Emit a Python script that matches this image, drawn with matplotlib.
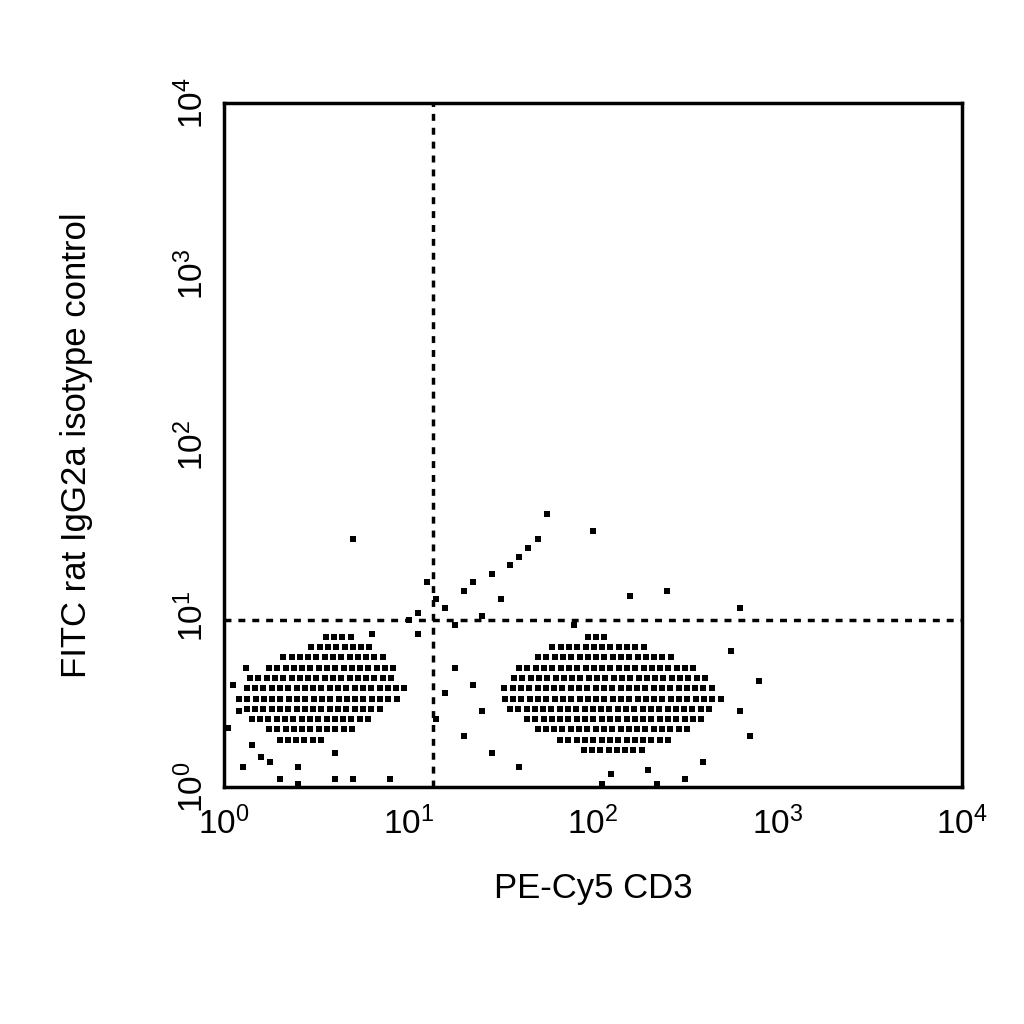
import matplotlib
matplotlib.use("Agg")
import matplotlib.pyplot as plt
import numpy as np

plt.rcParams['font.family'] = ['Liberation Sans', 'DejaVu Sans']
plt.rcParams['mathtext.fontset'] = 'custom'
plt.rcParams['mathtext.rm'] = 'Liberation Sans'

# dense event rows, in log10 units: (y level, x start, x end)
cd3_rows_y  = [0.22, 0.28, 0.34, 0.40, 0.46, 0.52, 0.58, 0.64, 0.70, 0.76, 0.82, 0.88]
cd3_rows_lo = [1.95, 1.80, 1.70, 1.62, 1.55, 1.50, 1.52, 1.55, 1.60, 1.68, 1.78, 1.95]
cd3_rows_hi = [2.30, 2.45, 2.55, 2.62, 2.66, 2.70, 2.68, 2.62, 2.55, 2.45, 2.30, 2.10]
neg_rows_y  = [0.28, 0.34, 0.40, 0.46, 0.52, 0.58, 0.64, 0.70, 0.76, 0.82, 0.88]
neg_rows_lo = [0.30, 0.22, 0.15, 0.10, 0.08, 0.10, 0.14, 0.22, 0.32, 0.45, 0.55]
neg_rows_hi = [0.55, 0.70, 0.80, 0.88, 0.95, 0.98, 0.95, 0.92, 0.88, 0.82, 0.72]
row_step = 0.045

# scattered events (log10 x, log10 y)
sparse_x = [1.35, 1.4, 1.3, 1.25, 1.2, 1.15, 1.45, 1.6, 2.1, 2.3, 2.5, 2.75, 2.8, 2.85,
            2.9, 2.6, 2.05, 2.35, 1.9,
            1.15, 1.2, 1.3, 1.35, 1.45, 1.5, 1.55, 1.6, 1.7, 1.65, 1.1, 1.05, 1.75, 2.0, 2.2,
            2.4, 0.7, 2.8, 1.4, 1.25, 1.0,
            0.05, 0.08, 0.02, 0.12, 0.15, 0.2, 0.25, 0.6, 0.4, 0.7, 0.4, 0.6, 0.9, 0.3,
            0.1, 1.05, 0.8]
sparse_y = [0.6, 0.45, 0.3, 0.7, 0.55, 0.4, 0.2, 0.12, 0.08, 0.1, 0.05, 0.8, 0.45, 0.3,
            0.62, 0.15, 0.02, 0.02, 0.95,
            1.1, 1.05, 1.15, 1.2, 1.25, 1.1, 1.3, 1.35, 1.45, 1.4, 1.2, 1.02, 1.6, 1.5, 1.12,
            1.15, 1.45, 1.05, 1.0, 0.95, 0.98,
            0.6, 0.45, 0.35, 0.7, 0.25, 0.18, 0.15, 0.05, 0.12, 0.05, 0.02, 0.2, 0.05, 0.05,
            0.12, 0.9, 0.9]

gate_x = 13.5
gate_y = 9.5

xs, ys = list(sparse_x), list(sparse_y)
for rows_y, lo, hi in [(cd3_rows_y, cd3_rows_lo, cd3_rows_hi),
                       (neg_rows_y, neg_rows_lo, neg_rows_hi)]:
    for i, (yv, a, b) in enumerate(zip(rows_y, lo, hi)):
        row = np.arange(a + (i % 2) * row_step / 2, b, row_step)
        xs += list(row)
        ys += [yv] * len(row)
xs = 10 ** np.array(xs)
ys = 10 ** np.array(ys)

fig = plt.figure(figsize=(10.24, 10.24), dpi=100)
ax = fig.add_axes([0.219, 0.231, 0.72, 0.668])
ax.scatter(xs, ys, s=20, marker='s', c='black', linewidths=0)
ax.axvline(gate_x, color='black', ls=(0, (2, 2)), lw=2.5)
ax.axhline(gate_y, color='black', ls=(0, (2, 2)), lw=2.5)

ax.set_xscale('log')
ax.set_yscale('log')
ax.set_xlim(1, 1e4)
ax.set_ylim(1, 1e4)
ax.minorticks_off()
ax.set_xticks([1, 10, 100, 1000, 10000])
ax.set_yticks([1, 10, 100, 1000, 10000])
ax.set_xticklabels([r'$\mathregular{10^{%d}}$' % i for i in range(5)], fontsize=24)
ax.set_yticklabels([r'$\mathregular{10^{%d}}$' % i for i in range(5)], fontsize=24,
                   rotation=90, va='center')
ax.tick_params(axis='x', length=0, pad=14)
ax.tick_params(axis='y', length=0, pad=10)
for sp in ax.spines.values():
    sp.set_linewidth(2.5)

ax.set_xlabel('PE-Cy5 CD3', fontsize=25, labelpad=22)
ax.set_ylabel('FITC rat IgG2a isotype control', fontsize=25, labelpad=60)

fig.savefig('out.png', dpi=100)
